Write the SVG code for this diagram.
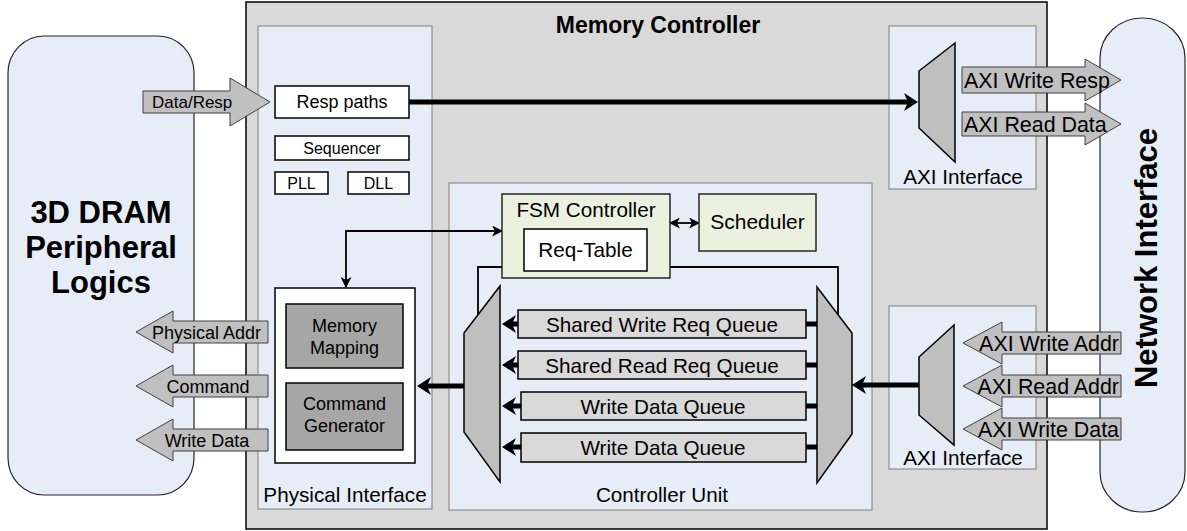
<svg xmlns="http://www.w3.org/2000/svg" width="1187" height="531" viewBox="0 0 1187 531">
<defs>
<style>
text{font-family:"Liberation Sans",Arial,sans-serif;fill:#000}
.t20{font-size:20.7px}
.t21{font-size:21.4px}
.t18{font-size:18px}
.t16{font-size:16px}
.mid{text-anchor:middle}
.b{font-weight:bold}
.panel{fill:#e7edf7;stroke:#7f7f7f;stroke-width:1}
.ext{fill:#e7edf7;stroke:#262626;stroke-width:1.2}
.box{fill:#fff;stroke:#000;stroke-width:1.5}
.gbox{fill:#a6a6a6;stroke:#000;stroke-width:1.5}
.queue{fill:#d9d9d9;stroke:#000;stroke-width:1.5}
.fsm{fill:#ebf1de;stroke:#262626;stroke-width:1.5}
.mux{fill:#bfbfbf;stroke:#000;stroke-width:1.5}
.barrow{fill:#c0c0c0;stroke:#404040;stroke-width:1}
.thick{fill:none;stroke:#000;stroke-width:5}
.thin{fill:none;stroke:#000;stroke-width:1.8}
</style>
<marker id="ah" viewBox="0 0 14 18" refX="6" refY="9" markerWidth="14" markerHeight="18" markerUnits="userSpaceOnUse" orient="auto">
<path d="M0,0 L14,9 L0,18 L4,9 z" fill="#000"/>
</marker>
<marker id="ahs" viewBox="0 0 11 11" refX="10" refY="5.5" markerWidth="11" markerHeight="11" markerUnits="userSpaceOnUse" orient="auto-start-reverse">
<path d="M0,0 L11,5.5 L0,11 L3,5.5 z" fill="#000"/>
</marker>
</defs>

<g id="dram">
<rect x="8" y="36" width="186" height="459" rx="36" ry="37" class="ext"/>
<text x="101" y="223" class="mid b" style="font-size:31px">3D DRAM</text>
<text x="101" y="258" class="mid b" style="font-size:31px">Peripheral</text>
<text x="101" y="293" class="mid b" style="font-size:31px">Logics</text>
</g>

<g id="network-interface">
<rect x="1100" y="18" width="85" height="494" rx="42" ry="40" class="ext"/>
<text transform="translate(1157,258) rotate(-90)" class="mid b" style="font-size:31px">Network Interface</text>
</g>

<g id="memory-controller">
<rect x="246" y="2" width="801" height="527" fill="#d9d9d9" stroke="#000" stroke-width="1.5"/>
<text x="658" y="33" class="mid b" style="font-size:23px">Memory Controller</text>
</g>

<g id="physical-interface">
<rect x="258" y="26" width="174" height="483" class="panel"/>
<text x="345" y="502" class="mid t20">Physical Interface</text>
</g>

<g id="axi-interface-top">
<rect x="889" y="26" width="147" height="163" class="panel"/>
<text x="963" y="184" class="mid t20">AXI Interface</text>
</g>

<g id="axi-interface-bottom">
<rect x="889" y="306" width="147" height="163" class="panel"/>
<text x="963" y="465" class="mid t20">AXI Interface</text>
</g>

<g id="controller-unit">
<rect x="449" y="183" width="423" height="327" class="panel"/>
<text x="662" y="502" class="mid t20">Controller Unit</text>
</g>

<g id="connectors">
<line x1="409" y1="102" x2="910" y2="102" class="thick" marker-end="url(#ah)"/>
<line x1="919" y1="385" x2="860" y2="385" class="thick" marker-end="url(#ah)"/>
<line x1="464" y1="386" x2="425" y2="386" class="thick" marker-end="url(#ah)"/>
<line x1="518" y1="324" x2="510" y2="324" class="thick" marker-end="url(#ah)"/>
<line x1="518" y1="365" x2="510" y2="365" class="thick" marker-end="url(#ah)"/>
<line x1="521" y1="406" x2="510" y2="406" class="thick" marker-end="url(#ah)"/>
<line x1="521" y1="447" x2="510" y2="447" class="thick" marker-end="url(#ah)"/>
<line x1="806" y1="324" x2="818" y2="324" class="thick"/>
<line x1="806" y1="365" x2="818" y2="365" class="thick"/>
<line x1="806" y1="406" x2="818" y2="406" class="thick"/>
<line x1="806" y1="447" x2="818" y2="447" class="thick"/>
<path d="M346,287 V231 H502" class="thin" marker-start="url(#ahs)" marker-end="url(#ahs)"/>
<path d="M670,223 H699" class="thin" marker-start="url(#ahs)" marker-end="url(#ahs)"/>
<path d="M478,315 V267 H838 V317" class="thin"/>
</g>

<g id="data-resp-arrow">
<polygon points="143,91 230,91 230,78 270,102 230,126 230,113 143,113" class="barrow"/>
<text x="152" y="108" style="font-size:17px">Data/Resp</text>
</g>

<g id="physical-addr-arrow">
<polygon points="268,321 173,321 173,311 136,332 173,353 173,343 268,343" class="barrow"/>
<text x="152" y="338.5" class="t18">Physical Addr</text>
</g>
<g id="command-arrow">
<polygon points="268,375 173,375 173,365 136,386 173,407 173,397 268,397" class="barrow"/>
<text x="208" y="392.5" class="mid t18">Command</text>
</g>
<g id="write-data-arrow">
<polygon points="268,429 173,429 173,419 136,440 173,461 173,451 268,451" class="barrow"/>
<text x="207" y="446.5" class="mid t18">Write Data</text>
</g>

<g id="axi-write-resp-arrow">
<polygon points="962,67 1085,67 1085,59 1121,80 1085,101 1085,93 962,93" class="barrow"/>
<text x="964" y="87.5" class="t21">AXI Write Resp</text>
</g>
<g id="axi-read-data-arrow">
<polygon points="962,112 1085,112 1085,103 1121,124 1085,145 1085,136 962,136" class="barrow"/>
<text x="964" y="131.5" class="t21">AXI Read Data</text>
</g>

<g id="axi-write-addr-arrow">
<polygon points="1121,332 1002,332 1002,322 963,343 1002,364 1002,354 1121,354" class="barrow"/>
<text x="1119" y="350.5" class="t21" text-anchor="end">AXI Write Addr</text>
</g>
<g id="axi-read-addr-arrow">
<polygon points="1121,375 1002,375 1002,365 963,386 1002,407 1002,397 1121,397" class="barrow"/>
<text x="1119" y="393.5" class="t21" text-anchor="end">AXI Read Addr</text>
</g>
<g id="axi-write-data-arrow">
<polygon points="1121,418 1002,418 1002,408 963,429 1002,450 1002,440 1121,440" class="barrow"/>
<text x="1119" y="436.5" class="t21" text-anchor="end">AXI Write Data</text>
</g>

<g id="resp-paths">
<rect x="275" y="86" width="134" height="32" class="box"/>
<text x="342" y="107.5" class="mid t18">Resp paths</text>
</g>
<g id="sequencer">
<rect x="275" y="136" width="134" height="24" class="box"/>
<text x="342" y="154" class="mid t16">Sequencer</text>
</g>
<g id="pll">
<rect x="275" y="172" width="53" height="22" class="box"/>
<text x="301.5" y="189" class="mid t16">PLL</text>
</g>
<g id="dll">
<rect x="348" y="172" width="61" height="22" class="box"/>
<text x="378.5" y="189" class="mid t16">DLL</text>
</g>

<g id="phy-core">
<rect x="275" y="288" width="140" height="175" class="box"/>
</g>
<g id="memory-mapping">
<rect x="286" y="304" width="117" height="64" class="gbox"/>
<text x="344.5" y="332" class="mid t18">Memory</text>
<text x="344.5" y="354" class="mid t18">Mapping</text>
</g>
<g id="command-generator">
<rect x="286" y="383" width="117" height="67" class="gbox"/>
<text x="344.5" y="410" class="mid t18">Command</text>
<text x="344.5" y="432" class="mid t18">Generator</text>
</g>

<g id="fsm-controller">
<rect x="502" y="194" width="168" height="84" class="fsm"/>
<text x="586" y="217" class="mid t20">FSM Controller</text>
</g>
<g id="req-table">
<rect x="524" y="229" width="123" height="42" class="box"/>
<text x="585.5" y="257" class="mid t20">Req-Table</text>
</g>
<g id="scheduler">
<rect x="699" y="194" width="117" height="57" class="fsm"/>
<text x="757.5" y="229" class="mid" style="font-size:21px">Scheduler</text>
</g>

<g id="mux-left">
<polygon points="500,286 464,333 464,432 500,482" class="mux"/>
</g>
<g id="mux-right">
<polygon points="817,287 852,333 852,434 817,483" class="mux"/>
</g>
<g id="mux-axi-top">
<polygon points="955,43 919,71 919,128 955,162" class="mux"/>
</g>
<g id="mux-axi-bottom">
<polygon points="954,325 919,357 919,415 954,445" class="mux"/>
</g>

<g id="queue-shared-write">
<rect x="518" y="310" width="288" height="28" class="queue"/>
<text x="662" y="331.5" class="mid t20">Shared Write Req Queue</text>
</g>
<g id="queue-shared-read">
<rect x="518" y="351" width="288" height="28" class="queue"/>
<text x="662" y="372.5" class="mid t20">Shared Read Req Queue</text>
</g>
<g id="queue-write-data-1">
<rect x="521" y="392" width="285" height="28" class="queue"/>
<text x="663" y="413.5" class="mid t20">Write Data Queue</text>
</g>
<g id="queue-write-data-2">
<rect x="521" y="433" width="285" height="29" class="queue"/>
<text x="663" y="454.5" class="mid t20">Write Data Queue</text>
</g>
</svg>
